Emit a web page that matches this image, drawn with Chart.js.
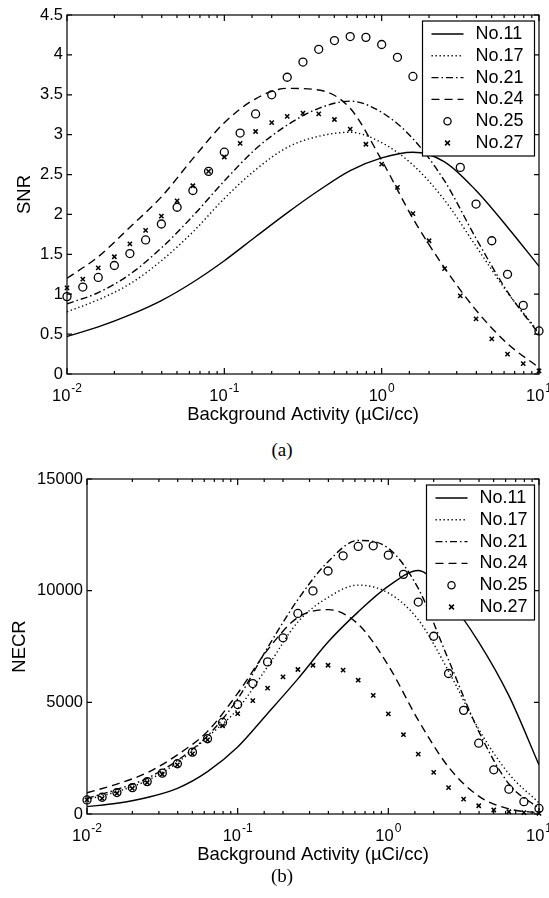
<!DOCTYPE html>
<html>
<head>
<meta charset="utf-8">
<title>SNR and NECR vs background activity</title>
<script src="https://cdn.jsdelivr.net/npm/chart.js@4.4.1/dist/chart.umd.min.js"></script>
<style>
  html, body { margin: 0; padding: 0; background: #fff; }
  body { width: 549px; height: 898px; position: relative; overflow: hidden; }
  canvas { position: absolute; left: 0; }
  .caption {
    position: absolute; width: 60px; text-align: center; color: #000;
    font-family: "Liberation Serif", "DejaVu Serif", serif; font-size: 19px; line-height: 22px;
  }
</style>
</head>
<body>
<canvas id="snr-chart" width="549" height="432" style="top:0"></canvas>
<div class="caption" style="left:252px;top:439px">(a)</div>
<canvas id="necr-chart" width="549" height="412" style="top:460px"></canvas>
<div class="caption" style="left:252px;top:865px">(b)</div>

<script>
// series names, same order in both panels
const seriesLabels = ['No.11', 'No.17', 'No.21', 'No.24', 'No.25', 'No.27'];

// background activity (uCi/cc) where the curves were read
const lineX = [0.01, 0.0158, 0.0251, 0.0398, 0.0631, 0.1, 0.158, 0.251, 0.398, 0.631,
               1, 1.58, 2.51, 3.98, 6.31, 10];
// background activity of the measured points (o and x)
const pointX = [0.01, 0.0126, 0.0158, 0.02, 0.0251, 0.0316, 0.0398, 0.0501, 0.0631, 0.0794,
                0.1, 0.126, 0.158, 0.2, 0.251, 0.316, 0.398, 0.501, 0.631, 0.794,
                1, 1.26, 1.58, 2, 2.51, 3.16, 3.98, 5.01, 6.31, 7.94, 10];

// (a) SNR
const snrNo11 = [0.47, 0.59, 0.74, 0.92, 1.15, 1.42, 1.72, 2.02, 2.30, 2.55, 2.71, 2.78, 2.66, 2.30, 1.84, 1.35];
const snrNo17 = [0.78, 0.93, 1.13, 1.42, 1.78, 2.20, 2.56, 2.84, 2.98, 3.03, 2.90, 2.62, 2.18, 1.60, 1.02, 0.52];
const snrNo21 = [0.88, 1.02, 1.25, 1.58, 1.98, 2.42, 2.82, 3.12, 3.33, 3.42, 3.28, 2.95, 2.42, 1.70, 1.03, 0.50];
const snrNo24 = [1.20, 1.47, 1.84, 2.22, 2.70, 3.15, 3.45, 3.58, 3.56, 3.33, 2.68, 1.95, 1.33, 0.80, 0.38, 0.08];
const snrNo25 = [0.97, 1.09, 1.21, 1.36, 1.51, 1.68, 1.88, 2.09, 2.30, 2.54, 2.78, 3.02, 3.26, 3.50, 3.72, 3.91,
                 4.07, 4.18, 4.23, 4.22, 4.13, 3.97, 3.73, 3.35, 2.97, 2.59, 2.13, 1.67, 1.25, 0.86, 0.54];
const snrNo27 = [1.08, 1.19, 1.33, 1.47, 1.63, 1.80, 1.98, 2.17, 2.36, 2.54, 2.72, 2.89, 3.04, 3.15, 3.23, 3.27,
                 3.26, 3.19, 3.07, 2.88, 2.63, 2.34, 2.01, 1.67, 1.32, 0.98, 0.69, 0.44, 0.25, 0.13, 0.04];

// (b) NECR
const necrNo11 = [330, 480, 740, 1150, 1900, 3000, 4500, 6050, 7700, 9050, 10200, 10900, 9600, 7700, 5300, 2200];
const necrNo17 = [650, 1000, 1500, 2300, 3450, 4700, 6600, 8600, 9700, 10250, 9900, 8700, 6400, 3800, 1800, 500];
const necrNo21 = [700, 1100, 1600, 2400, 3500, 5150, 7450, 9600, 11300, 12250, 11900, 10100, 6900, 3700, 1350, 250];
const necrNo24 = [950, 1340, 1850, 2650, 3700, 5400, 7350, 8800, 9150, 8500, 6650, 4200, 2100, 800, 230, 50];
const necrNo25 = [630, 750, 960, 1180, 1450, 1830, 2250, 2770, 3370, 4100, 4900, 5840, 6810, 7890, 8980, 9990,
                  10880, 11560, 11980, 12010, 11590, 10730, 9490, 7960, 6290, 4640, 3170, 1980, 1110, 550, 250];
const necrNo27 = [630, 700, 930, 1150, 1410, 1780, 2200, 2690, 3320, 3950, 4490, 5080, 5640, 6140, 6470, 6660,
                  6660, 6440, 5990, 5310, 4480, 3550, 2680, 1860, 1180, 670, 370, 180, 100, 60, 30];

const SANS = "'Liberation Sans', Arial, Helvetica, sans-serif";

function isDecade(v) {
  const e = Math.round(Math.log10(v));
  return Math.abs(v - Math.pow(10, e)) < 1e-6 * v;
}

const lineStyles = [[], [1.3, 2.7], [7, 3, 1.5, 3], [8, 5]];

function makeDatasets(lines, markers) {
  const sets = lines.map((vals, i) => ({
    label: seriesLabels[i],
    data: lineX.map((x, j) => ({ x: x, y: vals[j] })),
    showLine: true,
    borderColor: '#000',
    borderWidth: 1.4,
    borderDash: lineStyles[i],
    pointRadius: 0,
    cubicInterpolationMode: 'monotone'
  }));
  markers.forEach((vals, i) => {
    sets.push({
      label: seriesLabels[4 + i],
      data: pointX.map((x, j) => ({ x: x, y: vals[j] })),
      showLine: false,
      pointStyle: i === 0 ? 'circle' : 'crossRot',
      pointRadius: i === 0 ? 4 : 3,
      pointBorderWidth: i === 0 ? 1.3 : 1.5,
      pointBorderColor: '#000',
      pointBackgroundColor: 'rgba(0,0,0,0)',
      clip: false
    });
  });
  return sets;
}

// box round the plot with MATLAB style inward ticks on all four sides
const frameTicks = {
  id: 'frameTicks',
  afterDatasetsDraw(chart) {
    const { ctx, chartArea: a, scales: { x, y } } = chart;
    ctx.save();
    ctx.strokeStyle = '#000';
    ctx.lineWidth = 1.2;
    ctx.setLineDash([]);
    ctx.strokeRect(a.left, a.top, a.right - a.left, a.bottom - a.top);
    ctx.beginPath();
    x.ticks.forEach(t => {
      const px = x.getPixelForValue(t.value);
      const len = isDecade(t.value) ? 6 : 3;
      ctx.moveTo(px, a.bottom); ctx.lineTo(px, a.bottom - len);
      ctx.moveTo(px, a.top); ctx.lineTo(px, a.top + len);
    });
    y.ticks.forEach(t => {
      const py = y.getPixelForValue(t.value);
      ctx.moveTo(a.left, py); ctx.lineTo(a.left + 5, py);
      ctx.moveTo(a.right, py); ctx.lineTo(a.right - 5, py);
    });
    ctx.stroke();
    ctx.restore();
  }
};

// decade labels written as 10 with a raised exponent
const decadeLabels = {
  id: 'decadeLabels',
  afterDraw(chart) {
    const { ctx, chartArea: a, scales: { x } } = chart;
    ctx.save();
    ctx.fillStyle = '#000';
    ctx.textBaseline = 'alphabetic';
    ctx.textAlign = 'left';
    x.ticks.filter(t => isDecade(t.value)).forEach(t => {
      const px = x.getPixelForValue(t.value);
      const exp = String(Math.round(Math.log10(t.value)));
      ctx.font = '16.5px ' + SANS;
      const wBase = ctx.measureText('10').width;
      ctx.font = '12px ' + SANS;
      const wExp = ctx.measureText(exp).width;
      const x0 = px - (wBase + 1 + wExp) / 2;
      ctx.font = '16.5px ' + SANS;
      ctx.fillText('10', x0, a.bottom + 26.5);
      ctx.font = '12px ' + SANS;
      ctx.fillText(exp, x0 + wBase + 1, a.bottom + 17.5);
    });
    ctx.restore();
  }
};

// legend inside the top right corner, white box over the data
const boxLegend = {
  id: 'boxLegend',
  afterDraw(chart, args, opts) {
    const { ctx, chartArea: a } = chart;
    const w = opts.width, h = 135, rowH = 21.8;
    const left = a.right - 4.5 - w, top = a.top + 6;
    ctx.save();
    ctx.fillStyle = '#fff';
    ctx.fillRect(left, top, w, h);
    ctx.strokeStyle = '#000';
    ctx.lineWidth = 1.2;
    ctx.strokeRect(left, top, w, h);
    ctx.font = '18px ' + SANS;
    ctx.textBaseline = 'middle';
    ctx.textAlign = 'left';
    chart.data.datasets.forEach((ds, i) => {
      const cy = top + 13 + i * rowH;
      const x0 = left + 9, x1 = left + 41, cx = (x0 + x1) / 2;
      ctx.strokeStyle = '#000';
      if (ds.showLine) {
        ctx.lineWidth = ds.borderWidth;
        ctx.setLineDash(ds.borderDash);
        ctx.beginPath(); ctx.moveTo(x0, cy); ctx.lineTo(x1, cy); ctx.stroke();
      } else {
        ctx.setLineDash([]);
        ctx.lineWidth = ds.pointBorderWidth;
        ctx.beginPath();
        if (ds.pointStyle === 'circle') {
          ctx.arc(cx, cy, ds.pointRadius * 0.9, 0, Math.PI * 2);
        } else {
          const r = ds.pointRadius * 0.8;
          ctx.moveTo(cx - r, cy - r); ctx.lineTo(cx + r, cy + r);
          ctx.moveTo(cx - r, cy + r); ctx.lineTo(cx + r, cy - r);
        }
        ctx.stroke();
      }
      ctx.setLineDash([]);
      ctx.fillStyle = '#000';
      ctx.fillText(ds.label, left + 53, cy);
    });
    ctx.restore();
  }
};

function drawPanel(canvasId, cfg) {
  return new Chart(document.getElementById(canvasId), {
    type: 'scatter',
    data: { datasets: makeDatasets(cfg.lines, cfg.markers) },
    options: {
      responsive: false,
      animation: false,
      events: [],
      layout: { padding: { top: cfg.top, right: 10, left: 0, bottom: 0 } },
      plugins: {
        legend: { display: false },
        tooltip: { enabled: false },
        boxLegend: { width: cfg.legendWidth }
      },
      scales: {
        x: {
          type: 'logarithmic',
          min: 0.01,
          max: 10,
          grid: { display: false, drawTicks: false },
          border: { display: false },
          ticks: { display: false, autoSkip: false },
          title: {
            display: true, text: 'Background Activity (\u00B5Ci/cc)', color: '#000',
            font: { family: SANS, size: 18.5 }, padding: { top: 0, bottom: 6 }
          },
          afterFit: s => { s.height = 58; s.paddingLeft = 0; s.paddingRight = 0; }
        },
        y: {
          min: 0,
          max: cfg.yMax,
          grid: { display: false, drawTicks: false },
          border: { display: false },
          ticks: {
            stepSize: cfg.yStep, padding: 4, color: '#000',
            font: { family: SANS, size: 16.5 },
            callback: v => String(v)
          },
          title: {
            display: true, text: cfg.yTitle, color: '#000',
            font: { family: SANS, size: 18.5 }, padding: { top: cfg.yTitlePad, bottom: 0 }
          },
          afterFit: s => { s.width = cfg.yWidth; s.paddingTop = 0; s.paddingBottom = 0; }
        }
      }
    },
    plugins: [frameTicks, decadeLabels, boxLegend]
  });
}

drawPanel('snr-chart', {
  lines: [snrNo11, snrNo17, snrNo21, snrNo24],
  markers: [snrNo25, snrNo27],
  yMax: 4.5, yStep: 0.5, yTitle: 'SNR',
  yWidth: 67, yTitlePad: 14, top: 15, legendWidth: 112
});

drawPanel('necr-chart', {
  lines: [necrNo11, necrNo17, necrNo21, necrNo24],
  markers: [necrNo25, necrNo27],
  yMax: 15000, yStep: 5000, yTitle: 'NECR',
  yWidth: 87, yTitlePad: 9, top: 19, legendWidth: 108
});
</script>
</body>
</html>
